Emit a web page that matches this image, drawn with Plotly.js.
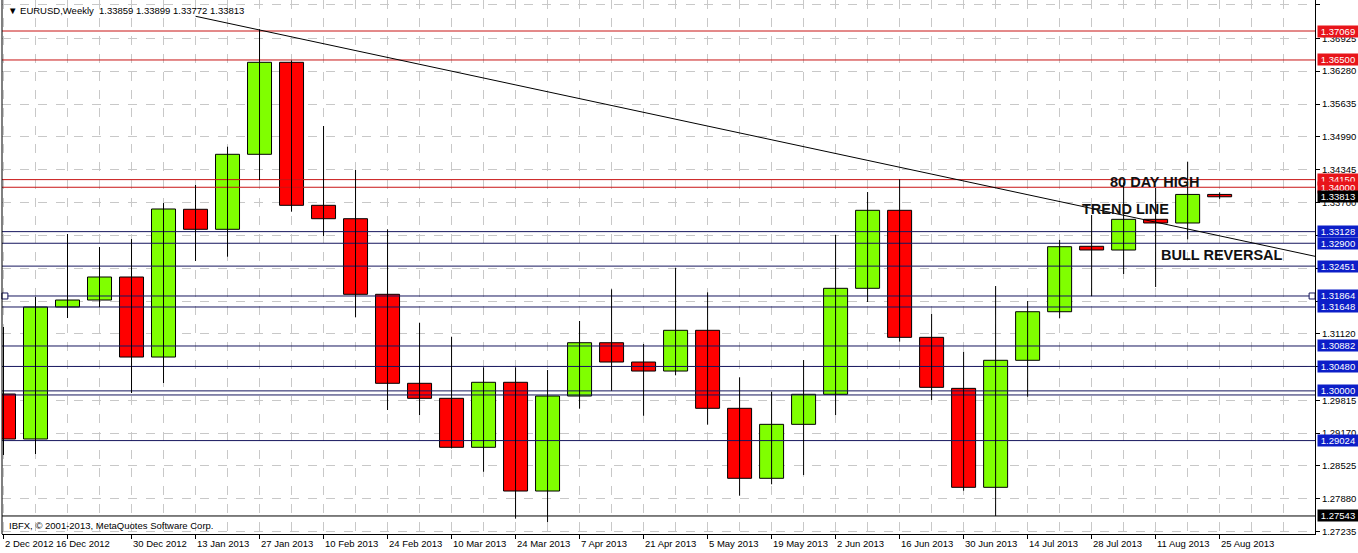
<!DOCTYPE html>
<html><head><meta charset="utf-8">
<script src="https://cdn.plot.ly/plotly-3.0.1.min.js"></script>
<style>html,body{margin:0;padding:0;background:#fff;} #chart{width:1358px;height:553px;}</style>
</head><body><div id="chart"></div>
<script>
// ---- data ----
const weeks = ['2012-12-02','2012-12-09','2012-12-16','2012-12-23','2012-12-30','2013-01-06','2013-01-13','2013-01-20','2013-01-27','2013-02-03','2013-02-10','2013-02-17','2013-02-24','2013-03-03','2013-03-10','2013-03-17','2013-03-24','2013-03-31','2013-04-07','2013-04-14','2013-04-21','2013-04-28','2013-05-05','2013-05-12','2013-05-19','2013-05-26','2013-06-02','2013-06-09','2013-06-16','2013-06-23','2013-06-30','2013-07-07','2013-07-14','2013-07-21','2013-07-28','2013-08-04','2013-08-11','2013-08-18','2013-08-25'];
const opens  = [1.29939,1.29055,1.31648,1.31785,1.32237,1.30665,1.33567,1.33174,1.34647,1.36454,1.33645,1.33382,1.31897,1.30149,1.29854,1.28892,1.30169,1.28033,1.29899,1.30946,1.30567,1.30390,1.31190,1.29658,1.28283,1.29343,1.29933,1.32015,1.33547,1.31052,1.30050,1.28106,1.30601,1.31555,1.32840,1.32767,1.33370,1.33298,1.33859];
const highs  = [1.31255,1.31844,1.33081,1.32826,1.32983,1.33690,1.34044,1.34796,1.37105,1.36490,1.35203,1.34339,1.33174,1.31339,1.31064,1.30463,1.30463,1.30410,1.31373,1.31995,1.30921,1.32419,1.31936,1.30267,1.29984,1.30606,1.33062,1.33906,1.34156,1.31510,1.30769,1.32060,1.31765,1.32964,1.33455,1.34090,1.33985,1.34502,1.33899];
const lows   = [1.28741,1.28760,1.31431,1.31648,1.29958,1.30155,1.32551,1.32636,1.34142,1.33520,1.33042,1.31445,1.29624,1.29526,1.28870,1.28412,1.27490,1.27424,1.29650,1.30003,1.29512,1.30306,1.29336,1.27941,1.28165,1.28347,1.29526,1.31746,1.30966,1.29821,1.28039,1.27543,1.29885,1.31425,1.31864,1.32296,1.32040,1.32977,1.33772];
const closes = [1.29055,1.31648,1.31785,1.32237,1.30665,1.33573,1.33174,1.34647,1.36454,1.33645,1.33382,1.31897,1.30149,1.29854,1.28892,1.30169,1.28033,1.29899,1.30946,1.30567,1.30390,1.31190,1.29658,1.28283,1.29343,1.29933,1.32015,1.33547,1.31052,1.30070,1.28106,1.30601,1.31555,1.32832,1.32768,1.33370,1.33298,1.33859,1.33813];

const xTickLabels = ['2 Dec 2012','16 Dec 2012','30 Dec 2012','13 Jan 2013','27 Jan 2013','10 Feb 2013','24 Feb 2013','10 Mar 2013','24 Mar 2013','7 Apr 2013','21 Apr 2013','5 May 2013','19 May 2013','2 Jun 2013','16 Jun 2013','30 Jun 2013','14 Jul 2013','28 Jul 2013','11 Aug 2013','25 Aug 2013'];
const yTicks = [1.37585,1.36925,1.36280,1.35635,1.34990,1.34345,1.33700,1.33055,1.32410,1.31765,1.31120,1.30475,1.29815,1.29170,1.28525,1.27880,1.27235];
// tick labels fully hidden behind level boxes in the original
const yTicksHidden = [1.33055,1.32410,1.31765,1.30475];

const redLevels  = [1.37069,1.36500,1.34150,1.34000];
const blueLevels = [1.33128,1.32900,1.32451,1.31864,1.31648,1.30882,1.30480,1.30000,1.29024];
const plainLevels = [1.29920];
const lowLevel = 1.27543;
const lastPrice = 1.33813;
const selectedLevel = 1.31864;

// trend line anchors (week index, price)
const trendAnchors = {x:[8, 36], y:[1.37089, 1.33315]};
const trendStartIdx = 6;

const header = '\u25BC EURUSD,Weekly\u00a0\u00a01.33859 1.33899 1.33772 1.33813';
const footer = 'IBFX, \u00a9 2001-2013, MetaQuotes Software Corp.';
const notes = [
  {text:'80 DAY HIGH', i:34.52, p:1.34103},
  {text:'TREND LINE', i:33.64, p:1.33582},
  {text:'BULL REVERSAL', i:36.11, p:1.32669}
];

// ---- chart ----
const FONT = '"Liberation Sans", Arial, sans-serif';
const idx = weeks.map((_, i) => i);
const xr = [-0.047, 40.98];
const yr = [1.27189, 1.37678];
const GRID = '#c8c8c8';
const NAVY = '#16165e';
const REDL = '#c81414';
const BODY_W = 0.75;

const traces = [];
function levelTrace(p, color){
  traces.push({type:'scatter', mode:'lines', x:xr, y:[p, p], line:{color:color, width:1},
    hoverinfo:'skip', showlegend:false});
}
redLevels.forEach(p => levelTrace(p, REDL));
blueLevels.forEach(p => levelTrace(p, NAVY));
plainLevels.forEach(p => levelTrace(p, NAVY));
levelTrace(lowLevel, '#000');

// wicks
const wx = [], wy = [];
idx.forEach(i => { wx.push(i, i, null); wy.push(lows[i], highs[i], null); });
traces.push({type:'scatter', mode:'lines', x:wx, y:wy, line:{color:'#000', width:1},
  hoverinfo:'skip', showlegend:false, connectgaps:false});

// bodies
function bodyTrace(filterUp, color){
  const sel = idx.filter(i => filterUp ? closes[i] >= opens[i] : closes[i] < opens[i]);
  traces.push({type:'bar', x:sel, base:sel.map(i => Math.min(opens[i], closes[i])),
    y:sel.map(i => Math.abs(closes[i] - opens[i])), width:BODY_W,
    marker:{color:color, line:{color:'#000', width:1}}, hoverinfo:'skip', showlegend:false});
}
bodyTrace(true, '#80ff00');
bodyTrace(false, '#ff0000');

// trend line
const slope = (trendAnchors.y[1]-trendAnchors.y[0])/(trendAnchors.x[1]-trendAnchors.x[0]);
const tY = x => trendAnchors.y[0] + slope*(x - trendAnchors.x[0]);
traces.push({type:'scatter', mode:'lines', x:[trendStartIdx, xr[1]], y:[tY(trendStartIdx), tY(xr[1])],
  line:{color:'#000', width:1}, hoverinfo:'skip', showlegend:false});
// selected object markers
traces.push({type:'scatter', mode:'markers', x:[xr[0]+0.09, xr[1]-0.09], y:[selectedLevel, selectedLevel],
  marker:{symbol:'square', size:6, color:'#fff', line:{color:NAVY, width:1}}, hoverinfo:'skip', showlegend:false, cliponaxis:false});

const shapes = [];
// left border
shapes.push({type:'line', xref:'paper', x0:0, x1:0, yref:'paper', y0:0, y1:1, line:{color:'#000', width:1}});

const annotations = [];
function priceBox(p, bg){
  annotations.push({xref:'paper', x:1, xanchor:'left', xshift:2, yref:'y', y:p, yanchor:'middle',
    text:p.toFixed(5), showarrow:false, bgcolor:bg, width:40, height:11, borderpad:0,
    font:{family:FONT, size:9.5, color:'#fff'}});
}
redLevels.forEach(p => priceBox(p, '#e8141a'));
blueLevels.forEach(p => priceBox(p, '#0c1ec8'));
priceBox(lastPrice, '#000');
priceBox(lowLevel, '#000');

xTickLabels.forEach((t, k) => {
  annotations.push({xref:'x', x:k*2, xanchor:'left', xshift:(k===1 ? -14 : -1), yref:'paper', y:0, yanchor:'top', yshift:-2,
    text:t, showarrow:false, font:{family:FONT, size:9.5, color:'#000'}});
});
annotations.push({xref:'paper', x:0, xanchor:'left', xshift:4, yref:'paper', y:1, yanchor:'top', yshift:-3,
  text:header, showarrow:false, font:{family:FONT, size:9.5, color:'#000'}});
annotations.push({xref:'paper', x:0, xanchor:'left', xshift:5, yref:'paper', y:(534-525)/534, yanchor:'middle',
  text:footer, showarrow:false, font:{family:FONT, size:9.5, color:'#000'}});
notes.forEach(n => annotations.push({xref:'x', x:n.i, xanchor:'left', yref:'y', y:n.p, yanchor:'middle',
  text:'<b>'+n.text+'</b>', showarrow:false, font:{family:FONT, size:14.5, color:'#111'}}));

const layout = {
  width:1358, height:553,
  margin:{l:2, r:43, t:0, b:19, pad:0},
  paper_bgcolor:'#fff', plot_bgcolor:'#fff',
  showlegend:false, barmode:'overlay',
  font:{family:FONT, size:9.5, color:'#000'},
  xaxis:{range:xr, tickmode:'array', tickvals:xTickLabels.map((_, k) => k*2), showticklabels:false,
    ticks:'outside', ticklen:4, tickcolor:'#000', showgrid:true, gridcolor:GRID, griddash:'dash', gridwidth:1,
    showline:true, linecolor:'#000', linewidth:1, zeroline:false, fixedrange:true,
    minor:{tick0:0, dtick:1, showgrid:true, gridcolor:GRID, griddash:'dash', ticks:''}},
  yaxis:{side:'right', range:yr, tickmode:'array', tickvals:yTicks,
    ticktext:yTicks.map(v => yTicksHidden.includes(v) ? '' : v.toFixed(5)),
    ticks:'outside', ticklen:4, tickcolor:'#000', showgrid:true, gridcolor:GRID, griddash:'dash', gridwidth:1,
    showline:true, linecolor:'#000', linewidth:1, zeroline:false, fixedrange:true,
    tickfont:{family:FONT, size:9.5, color:'#000'}},
  shapes:shapes, annotations:annotations
};
Plotly.newPlot('chart', traces, layout, {displayModeBar:false, staticPlot:true});
</script>
</body></html>
